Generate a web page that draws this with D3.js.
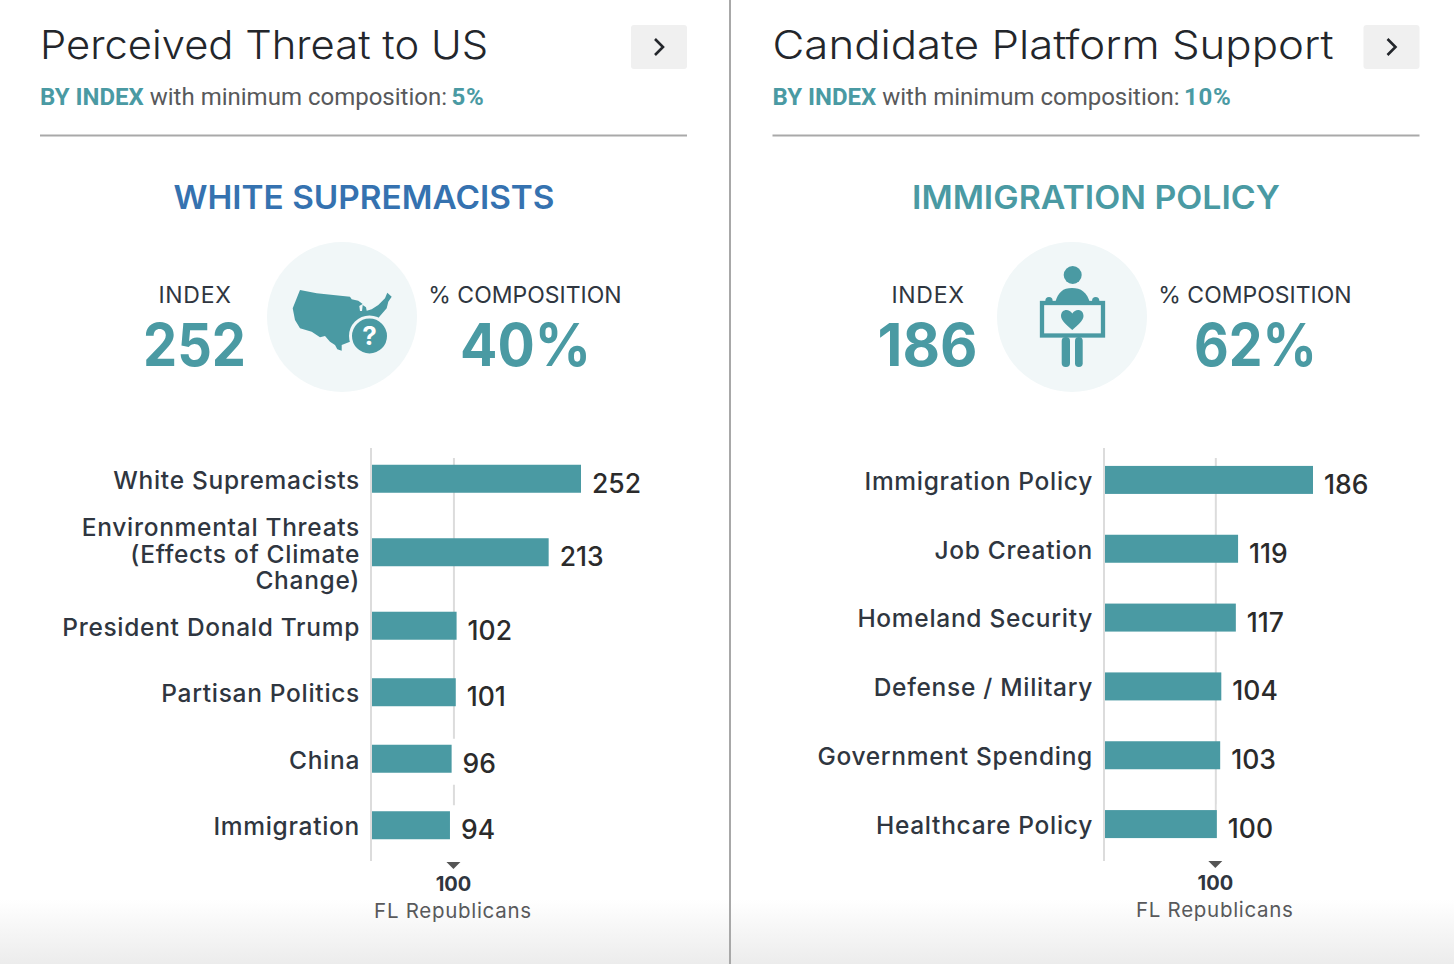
<!DOCTYPE html>
<html>
<head>
<meta charset="utf-8">
<script src="https://cdnjs.cloudflare.com/ajax/libs/d3/7.8.5/d3.min.js"></script>
<style>
  html, body { margin: 0; padding: 0; background: #fff; overflow: hidden; }
  svg { display: block; }
  text { font-family: Inter, "Open Sans", sans-serif; }
  .domain { display: none; }
</style>
</head>
<body>
<div id="chart"></div>
<script>
const threatCats = ["White Supremacists", "Environmental Threats (Effects of Climate Change)", "President Donald Trump", "Partisan Politics", "China", "Immigration"];
const threatVals = [252, 213, 102, 101, 96, 94];
const threatLines = [1, 3, 1, 1, 1, 1];
const platformCats = ["Immigration Policy", "Job Creation", "Homeland Security", "Defense / Military", "Government Spending", "Healthcare Policy"];
const platformVals = [186, 119, 117, 104, 103, 100];
const platformLines = [1, 1, 1, 1, 1, 1];
const wrapped = { "Environmental Threats (Effects of Climate Change)": ["Environmental Threats", "(Effects of Climate", "Change)"] };

const teal = "#4a9aa3";
const blue = "#3572b0";
const w = 1454, h = 964;

const svg = d3.select("#chart").append("svg").attr("width", w).attr("height", h);

const defs = svg.append("defs");
const grad = defs.append("linearGradient").attr("id", "fade").attr("x1", 0).attr("x2", 0).attr("y1", 0).attr("y2", 1);
grad.append("stop").attr("offset", 0).attr("stop-color", "#fff");
grad.append("stop").attr("offset", 1).attr("stop-color", "#ececec");
svg.append("rect").attr("x", 0).attr("y", 900).attr("width", w).attr("height", 64).attr("fill", "url(#fade)");
svg.append("line").attr("x1", 730).attr("x2", 730).attr("y1", 0).attr("y2", h).attr("stroke", "#a8a8a8").attr("stroke-width", 2);

function usIcon(g) {
  g.append("path").attr("fill", teal)
    .attr("d", "M-42,-27 L-25.3,-23.7 L-8.7,-22 L8,-20.3 L9.7,-17.7 L16.3,-16.3 L20.7,-13 L17.3,-11 L18,-6 L20,-6 L20.7,-12 L24,-9.7 L24.7,-6.3 L29.7,-7.7 L36.3,-12 L43,-18.7 L45.3,-24.3 L49.7,-20.3 L46.3,-15.3 L44.7,-8.7 L38,-1 L33,5 L21.3,9.7 L11.3,19.7 L8,24.7 L-0.3,28 L-0.3,33.7 L-4.7,32.3 L-7,28 L-12,24.7 L-17,19 L-22,20.3 L-30.3,14.7 L-42,11.3 L-47,3 L-49.3,-8.7 L-45.3,-18.7 Z");
  g.append("circle").attr("cx", 27.5).attr("cy", 19).attr("r", 19).attr("fill", teal).attr("stroke", "#f1f7f8").attr("stroke-width", 3);
  g.append("text").attr("x", 27.5).attr("y", 28).attr("text-anchor", "middle")
    .attr("font-size", 26).attr("font-weight", 700).attr("fill", "#fff").text("?");
}

function signIcon(g) {
  g.append("circle").attr("cx", 0.7).attr("cy", -42).attr("r", 9).attr("fill", teal);
  g.append("path").attr("fill", teal).attr("d", "M-17,-14 C-14,-25 -9,-29 0,-29 C9,-29 15,-25 18,-14 Z");
  g.append("rect").attr("x", -30).attr("y", -14).attr("width", 61).attr("height", 32.5).attr("fill", "none").attr("stroke", teal).attr("stroke-width", 4.3);
  g.append("circle").attr("cx", -23).attr("cy", -16.5).attr("r", 3.6).attr("fill", teal);
  g.append("circle").attr("cx", 23.7).attr("cy", -16.5).attr("r", 3.6).attr("fill", teal);
  g.append("path").attr("fill", teal).attr("d", "M0.3,13 C-5,8 -11,4 -11,-1 C-11,-8 -3,-9 0.3,-3.5 C3.5,-9 11.5,-8 11.5,-1 C11.5,4 5.5,8 0.3,13 Z");
  g.append("rect").attr("x", -10.3).attr("y", 20).attr("width", 8.3).attr("height", 30).attr("rx", 4).attr("fill", teal);
  g.append("rect").attr("x", 3).attr("y", 20).attr("width", 7.7).attr("height", 30).attr("rx", 3.8).attr("fill", teal);
}

function panel(p) {
  const g = svg.append("g");

  g.append("text").attr("x", p.left).attr("y", 59).attr("font-size", 40).attr("font-weight", 300)
    .attr("fill", "#23262b").attr("textLength", p.titleWidth).attr("lengthAdjust", "spacingAndGlyphs").text(p.title);

  g.append("rect").attr("x", p.left + 591).attr("y", 25).attr("width", 56).attr("height", 44).attr("rx", 3).attr("fill", "#f0f0f0");
  g.append("path").attr("d", `M${p.left + 615},39 l8,8 l-8,8`).attr("fill", "none").attr("stroke", "#23262b").attr("stroke-width", 2.6);

  const sub = g.append("text").attr("x", p.left).attr("y", 105).attr("font-size", 24).style("font-family", "Roboto").attr("fill", "#58595b");
  sub.append("tspan").attr("font-weight", 700).attr("fill", teal).text("BY INDEX");
  sub.append("tspan").text(" with minimum composition: ");
  sub.append("tspan").attr("font-weight", 700).attr("letter-spacing", 0.7).attr("dx", -1.5).attr("fill", teal).text(p.minComp);

  g.append("line").attr("x1", p.left).attr("x2", p.left + 647).attr("y1", 135.5).attr("y2", 135.5).attr("stroke", "#a9a9a9").attr("stroke-width", 2);

  g.append("text").attr("x", p.headX).attr("y", 209).attr("text-anchor", "middle").attr("font-size", 32).attr("font-weight", 600)
    .attr("fill", p.headColor).attr("textLength", p.headWidth).attr("lengthAdjust", "spacingAndGlyphs").text(p.head);

  g.append("circle").attr("cx", p.iconX).attr("cy", 317).attr("r", 75).attr("fill", "#f1f7f8");
  p.icon(g.append("g").attr("transform", `translate(${p.iconX},317)`));

  g.append("text").attr("x", p.indexX).attr("y", 303).attr("text-anchor", "middle").attr("font-size", 23).attr("letter-spacing", 0.7).attr("fill", "#2f3640").text("INDEX");
  g.append("text").attr("x", p.indexX - 0.5).attr("y", 366).attr("text-anchor", "middle").attr("font-size", 59).attr("font-weight", 700).attr("fill", teal)
    .attr("textLength", p.indexWidth).attr("lengthAdjust", "spacingAndGlyphs").text(p.index);
  g.append("text").attr("x", p.compX).attr("y", 303).attr("text-anchor", "middle").attr("font-size", 23).attr("fill", "#2f3640").text("% COMPOSITION");
  g.append("text").attr("x", p.compX + 0.5).attr("y", 366).attr("text-anchor", "middle").attr("font-size", 59).attr("font-weight", 700).attr("fill", teal)
    .attr("textLength", p.compWidth).attr("lengthAdjust", "spacingAndGlyphs").text(p.comp);

  // taller rows for wrapped labels, the rest share what is left
  const weights = p.lines.map(n => 1 + 0.105 * (n - 1));
  const total = d3.sum(weights);
  const rowY = d3.scaleLinear().domain([0, total]).range([445.5, 858.5]);
  const centers = weights.map((wt, i) => rowY(d3.sum(weights.slice(0, i)) + wt / 2));
  const y = d3.scaleOrdinal().domain(p.cats).range(centers);
  const x = d3.scaleLinear().domain([0, p.max]).range([p.x0, p.x1]);
  const barH = 28;

  g.append("line").attr("x1", p.x0 - 1).attr("x2", p.x0 - 1).attr("y1", 448).attr("y2", 861).attr("stroke", "#dcdcdc").attr("stroke-width", 2);
  g.append("line").attr("x1", x(100) - 1).attr("x2", x(100) - 1).attr("y1", 458).attr("y2", 838).attr("stroke", "#dcdcdc").attr("stroke-width", 2);

  const rows = p.cats.map((c, i) => ({ cat: c, val: p.vals[i] }));

  g.selectAll(".halo").data(rows).enter().append("rect").attr("class", "halo")
    .attr("x", d => x(d.val))
    .attr("y", d => y(d.cat) - 20)
    .attr("width", d => 12 + String(d.val).length * 17)
    .attr("height", 46)
    .attr("fill", "#fff");

  g.selectAll(".bar").data(rows).enter().append("rect").attr("class", "bar")
    .attr("x", x(0))
    .attr("y", d => y(d.cat) - barH / 2)
    .attr("width", d => x(d.val) - x(0))
    .attr("height", barH)
    .attr("fill", teal);

  g.selectAll(".val").data(rows).enter().append("text").attr("class", "val")
    .attr("x", d => x(d.val) + 11)
    .attr("y", d => y(d.cat) + 14)
    .attr("font-size", 26.5).attr("font-weight", 500).attr("fill", "#2b2b2b")
    .text(d => d.val);

  const yAxis = g.append("g").attr("transform", `translate(${p.x0},0)`)
    .call(d3.axisLeft(y).tickSize(0).tickPadding(12));
  yAxis.selectAll(".tick text").attr("font-size", 24.5).attr("font-weight", 500).attr("letter-spacing", 0.7).attr("fill", "#2f3640").style("font-family", "Inter")
    .attr("dy", "0.38em")
    .each(function(c) {
      const parts = wrapped[c];
      if (!parts) return;
      const t = d3.select(this).attr("dy", null).text(null);
      parts.forEach((s, i) => t.append("tspan").attr("x", -12).attr("dy", i ? 26.5 : -16.5).text(s));
    });

  const xAxis = g.append("g").attr("transform", `translate(-2,${p.axisY})`)
    .call(d3.axisBottom(x).tickValues([100]).tickSize(0).tickPadding(0));
  xAxis.selectAll(".tick line").remove();
  xAxis.selectAll(".tick").append("path").attr("d", "M-7,0 L7,0 L0,7 Z").attr("fill", "#555");
  xAxis.selectAll(".tick text").attr("y", 29).attr("dy", 0).attr("font-size", 20).attr("font-weight", 700).attr("fill", "#2f3640").style("font-family", "Inter");
  xAxis.append("text").attr("x", x(100)).attr("y", 56).attr("text-anchor", "middle").attr("font-size", 20.5).attr("letter-spacing", 0.7).attr("fill", "#58595b").text("FL Republicans");
}

panel({
  left: 40, title: "Perceived Threat to US", titleWidth: 448, minComp: "5%",
  head: "WHITE SUPREMACISTS", headX: 364, headWidth: 381, headColor: blue,
  iconX: 342, icon: usIcon, indexX: 195, compX: 525, index: "252", comp: "40%", indexWidth: 103, compWidth: 131,
  cats: threatCats, vals: threatVals, lines: threatLines, max: 252, x0: 372, x1: 581, axisY: 862
});
panel({
  left: 772.5, title: "Candidate Platform Support", titleWidth: 561, minComp: "10%",
  head: "IMMIGRATION POLICY", headX: 1096, headWidth: 368, headColor: teal,
  iconX: 1072, icon: signIcon, indexX: 928, compX: 1255, index: "186", comp: "62%", indexWidth: 100, compWidth: 123,
  cats: platformCats, vals: platformVals, lines: platformLines, max: 186, x0: 1105, x1: 1313, axisY: 861
});
</script>
</body>
</html>
